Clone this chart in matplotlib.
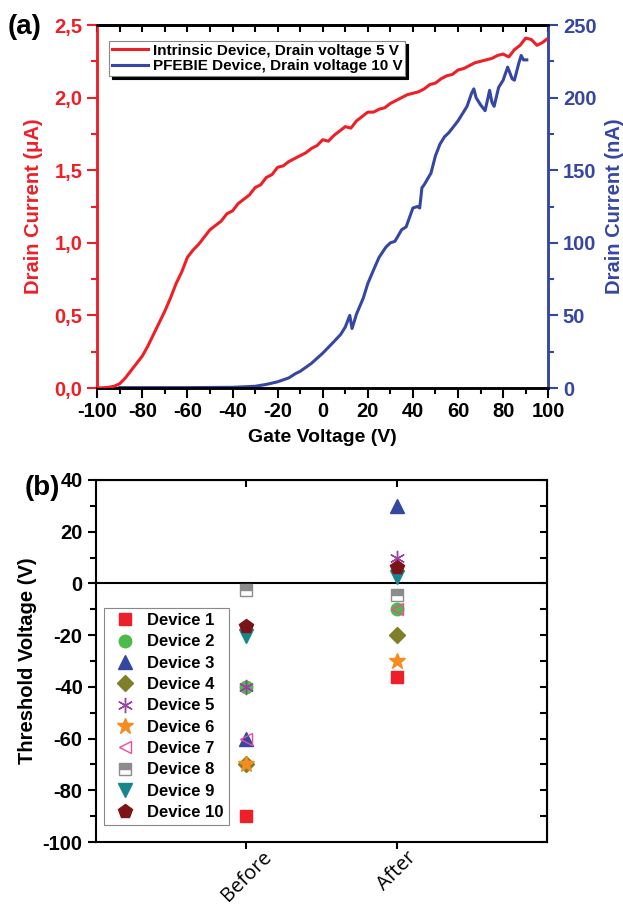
import numpy as np
import matplotlib
matplotlib.use('Agg')
import matplotlib.pyplot as plt
from matplotlib.ticker import MultipleLocator, FuncFormatter

plt.rcParams['font.family'] = ['Liberation Sans', 'DejaVu Sans']
plt.rcParams['font.weight'] = 'bold'
plt.rcParams['axes.labelweight'] = 'bold'
plt.rcParams['axes.unicode_minus'] = False

# ---- (a) transfer curves ----
vg_red = np.arange(-100, 100.1, 2.5)
id_red = [0.000, 0.002, 0.005, 0.012, 0.03, 0.07, 0.12, 0.17, 0.22, 0.29,
          0.37, 0.45, 0.53, 0.62, 0.72, 0.80, 0.90, 0.95, 0.99, 1.04,
          1.09, 1.12, 1.15, 1.20, 1.22, 1.27, 1.30, 1.33, 1.38, 1.40,
          1.45, 1.47, 1.52, 1.53, 1.56, 1.58, 1.60, 1.62, 1.65, 1.67,
          1.71, 1.70, 1.74, 1.77, 1.80, 1.79, 1.84, 1.87, 1.90, 1.90,
          1.92, 1.93, 1.96, 1.98, 2.00, 2.02, 2.03, 2.04, 2.06, 2.09,
          2.10, 2.13, 2.15, 2.16, 2.19, 2.20, 2.22, 2.24, 2.25, 2.26,
          2.27, 2.29, 2.30, 2.28, 2.33, 2.36, 2.41, 2.40, 2.36, 2.38, 2.41]

vg_blue = [-90, -80, -60, -40, -30, -25, -20, -15, -12, -10, -5, 0, 5, 8, 10,
           12, 13, 15, 18, 20, 23, 25, 28, 30, 32, 35, 37, 40, 42, 43, 44, 45,
           48, 50, 52, 54, 56, 58, 60, 62, 64, 66, 67, 68, 70, 72, 74, 75, 76,
           78, 80, 82, 84, 85, 87, 88, 89, 90.5]
id_blue = [0.3, 0.3, 0.3, 0.5, 1.2, 2.5, 4.3, 7, 10, 11.5, 17, 24, 32, 37, 42,
           50, 41, 51, 62, 72, 83, 90, 97, 100, 101, 109, 111, 124, 125, 124, 138, 140,
           148, 160, 168, 173, 176, 180, 184, 189, 194, 203, 206, 200, 195, 191, 205, 197, 194,
           207, 212, 221, 213, 212, 224, 229, 226, 226]

# ---- (b) threshold voltages ----
devices = ['Device %d' % i for i in range(1, 11)]
stages = ['Before', 'After']
vth_before = [-90, -40, -60, -70, -40, -70, -60, -2.5, -20.5, -16.5]
vth_after = [-36, -10, 30, -20, 10, -30, -10, -4.5, 2.6, 6.5]

red = '#ee1f26'
blue = '#3646a3'

fig = plt.figure(figsize=(6.23, 9.06), dpi=100)

ax1 = fig.add_axes([0.156, 0.5717, 0.724, 0.4007])
ax2 = ax1.twinx()
l1, = ax1.plot(vg_red, id_red, color=red, lw=2.2, zorder=3)
l2, = ax2.plot(vg_blue, id_blue, color=blue, lw=2.2)
ax1.set_zorder(ax2.get_zorder() + 1)
ax1.patch.set_visible(False)

ax1.set_xlim(-100, 100)
ax1.set_ylim(0, 2.5)
ax2.set_ylim(0, 250)
ax1.xaxis.set_major_locator(MultipleLocator(20))
ax1.xaxis.set_minor_locator(MultipleLocator(10))
ax1.yaxis.set_major_locator(MultipleLocator(0.5))
ax1.yaxis.set_minor_locator(MultipleLocator(0.25))
ax1.yaxis.set_major_formatter(FuncFormatter(lambda v, p: ('%.1f' % v).replace('.', ',')))
ax2.yaxis.set_major_locator(MultipleLocator(50))
ax2.yaxis.set_minor_locator(MultipleLocator(25))

ax1.tick_params(axis='x', which='major', length=7, width=1.5, labelsize=14.5, pad=3)
ax1.tick_params(axis='x', which='minor', length=4, width=1.5)
ax1.tick_params(axis='y', which='major', length=7, width=1.5, colors=red, labelsize=14.5)
ax1.tick_params(axis='y', which='minor', length=4, width=1.5, colors=red)
ax2.tick_params(axis='y', which='major', length=7, width=1.5, colors=blue, labelsize=14.5)
ax2.tick_params(axis='y', which='minor', length=4, width=1.5, colors=blue)

for a in (ax1, ax2):
    a.spines['left'].set_color(red)
    a.spines['right'].set_color(blue)
    for s in a.spines.values():
        s.set_linewidth(1.8)

top1 = ax1.secondary_xaxis('top')
top1.set_xticks(np.arange(-100, 101, 10))
top1.tick_params(direction='in', length=5, width=1.5, labeltop=False)
top1.spines['top'].set_linewidth(1.8)

ax1.set_xlabel('Gate Voltage (V)', fontsize=14, labelpad=6)
ax1.set_ylabel('Drain Current (\u03bcA)', fontsize=14.5, color=red, labelpad=8)
ax2.set_ylabel('Drain Current (nA)', fontsize=14.5, color=blue, labelpad=6)

leg = ax1.legend([l1, l2], ['Intrinsic Device, Drain voltage 5 V',
                            'PFEBIE Device, Drain voltage 10 V'],
                 loc='upper left', bbox_to_anchor=(0.027, 0.955), borderaxespad=0,
                 fontsize=11, fancybox=False, edgecolor='#888888', framealpha=1,
                 shadow={'color': 'black', 'alpha': 1}, borderpad=0.15,
                 handlelength=2.35, handletextpad=0.35, labelspacing=0.12)
leg.get_frame().set_linewidth(0.8)

fig.text(0.013, 0.985, '(a)', fontsize=20, fontweight='bold', va='top')

# ---- panel (b) ----
ax3 = fig.add_axes([0.154, 0.0706, 0.724, 0.3996])
styles = [
    dict(marker='s', color='#ee1f26', ms=8),
    dict(marker='o', color='#4dba4a', ms=9),
    dict(marker='^', color='#3448a2', ms=10),
    dict(marker='D', color='#7f7f2a', ms=8),
    dict(marker=(6, 2, 0), color='#9b3fa0', ms=11, mew=1),
    dict(marker='*', color='#f68b1f', ms=12),
    dict(marker='<', color='#ec4c9c', mfc='none', ms=9, mew=1),
    dict(marker='s', color='#8c8c8c', fillstyle='top', mfc='#8c8c8c',
         mfcalt='white', ms=8, mew=1),
    dict(marker='v', color='#16868a', ms=10),
    dict(marker='p', color='#7b1416', ms=10),
]
xpos = np.arange(1, len(stages) + 1)
handles = []
for i, name in enumerate(devices):
    h, = ax3.plot(xpos, [vth_before[i], vth_after[i]], ls='none', label=name,
                  **styles[i])
    handles.append(h)

ax3.axhline(0, color='black', lw=1.5, zorder=0)
ax3.set_xlim(0, 3)
ax3.set_ylim(-100, 40)
ax3.set_xticks(xpos)
ax3.set_xticklabels(stages, rotation=45, fontsize=14.5, fontweight='normal',
                    family=['Open Sans', 'DejaVu Sans'])
ax3.yaxis.set_major_locator(MultipleLocator(20))
ax3.yaxis.set_minor_locator(MultipleLocator(10))
ax3.tick_params(axis='x', length=5, width=1.5, pad=-1)
ax3.tick_params(axis='y', which='major', length=6, width=1.5, labelsize=14.5)
ax3.tick_params(axis='y', which='minor', length=4, width=1.5)
for s in ax3.spines.values():
    s.set_linewidth(1.5)

top3 = ax3.secondary_xaxis('top')
top3.set_xticks(xpos)
top3.tick_params(direction='in', length=5, width=1.5, labeltop=False)
right3 = ax3.secondary_yaxis('right')
right3.set_yticks(np.arange(-100, 41, 10))
right3.tick_params(direction='in', length=5, width=1.5, labelright=False)

ax3.set_ylabel('Threshold Voltage (V)', fontsize=14.5, labelpad=4)

leg3 = ax3.legend(handles=handles, loc='upper left', bbox_to_anchor=(0.018, 0.646),
                  borderaxespad=0, fontsize=12, fancybox=False, edgecolor='#888888',
                  framealpha=1, numpoints=1, handlelength=1.9, handletextpad=0.4,
                  labelspacing=0.38, borderpad=0.3)
leg3.get_frame().set_linewidth(0.8)

fig.text(0.040, 0.476, '(b)', fontsize=20, fontweight='bold', va='top')

fig.savefig('out.png', dpi=100)
